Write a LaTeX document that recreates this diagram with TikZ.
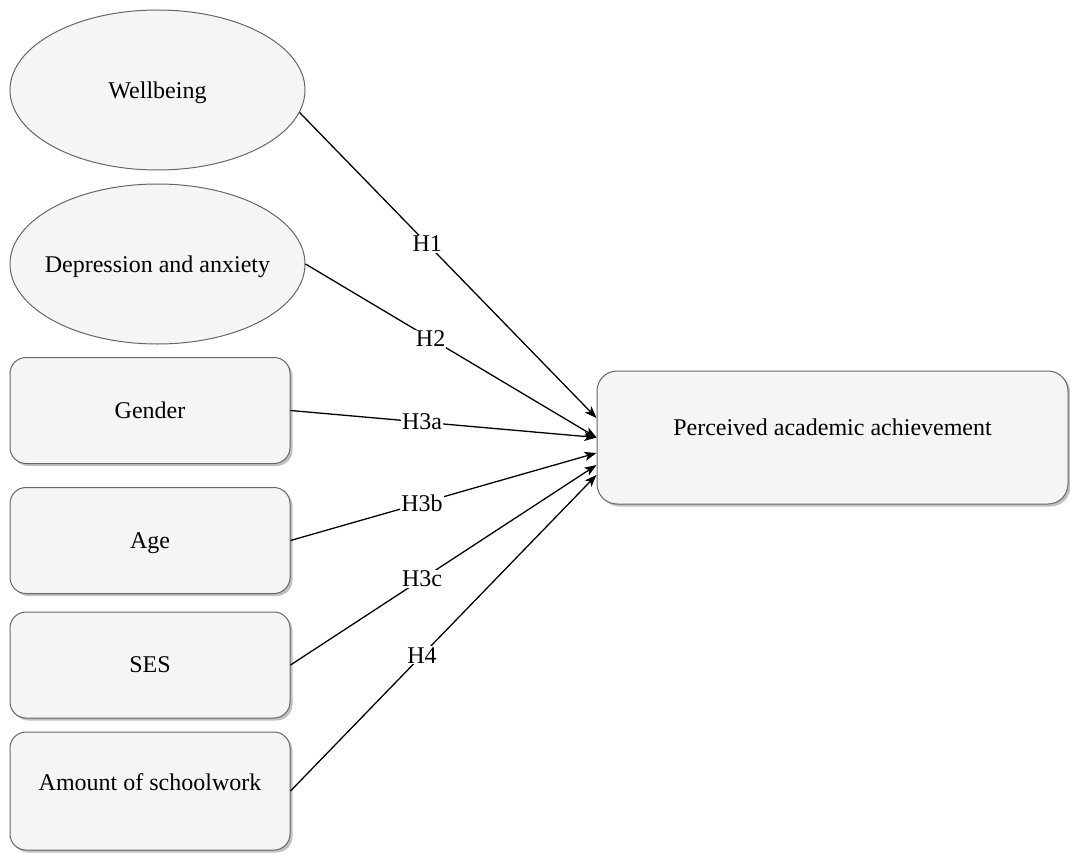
\documentclass[tikz,border=0pt]{standalone}
\usepackage{fontspec}
\setmainfont{Liberation Serif}
\usetikzlibrary{arrows.meta,shapes.geometric,shadows,calc}
\definecolor{nodefill}{HTML}{F5F5F5}
\definecolor{nodeline}{HTML}{666666}
\begin{document}
\begin{tikzpicture}[x=1pt,y=-1pt,
  every node/.style={font=\fontsize{24}{28}\selectfont},
  oval/.style={ellipse, draw=nodeline, fill=nodefill, line width=1pt,
    minimum width=295pt, minimum height=160pt, inner sep=0pt, inner xsep=-50pt,
    text depth=0pt},
  card/.style={rectangle, rounded corners=16pt, draw=nodeline, fill=nodefill,
    line width=1pt, minimum width=280pt, minimum height=106pt, inner sep=0pt,
    text depth=0pt,
    drop shadow={shadow xshift=2.5pt, shadow yshift=-2.5pt, fill=black!45, opacity=0.55}},
  edge/.style={draw=black, line width=1.3pt, -{Stealth[length=12pt,width=9pt,inset=3pt]}},
  hlab/.style={fill=white, inner sep=1pt, pos=0.43}
]
\useasboundingbox (0,0) rectangle (1070,853);

% predictors
\node[oval] (wb)  at (157.5,90)  {Wellbeing};
\node[oval] (dep) at (157.5,264) {Depression and anxiety};
\node[card] (gen) at (150,410.5) {Gender};
\node[card] (age) at (150,540.5) {Age};
\node[card] (ses) at (150,665)   {SES};
\node[card, minimum height=118pt,
  label={[yshift=9pt]center:Amount of schoolwork}] (work) at (150,791) {};

% outcome
\node[card, minimum width=471pt, minimum height=133pt, rounded corners=20pt,
  label={[yshift=10pt]center:Perceived academic achievement}] (pa) at (832.5,437.5) {};

% arrow endpoints on the outcome's left side
\coordinate (in1) at ($(pa.west)+(0,-19.5)$);
\coordinate (in2) at (pa.west);
\coordinate (in3) at ($(pa.west)+(0,15.5)$);
\coordinate (in4) at ($(pa.west)+(0,27.5)$);
\coordinate (in5) at ($(pa.west)+(0,37.5)$);

% hypothesised paths
\draw[edge] (wb.-9)     -- node[hlab]{H1}  (in1);
\draw[edge] (dep.east)  -- node[hlab]{H2}  (in2);
\draw[edge] (gen.east)  -- node[hlab]{H3a} (in2);
\draw[edge] (age.east)  -- node[hlab]{H3b} (in3);
\draw[edge] (ses.east)  -- node[hlab]{H3c} (in4);
\draw[edge] (work.east) -- node[hlab]{H4}  (in5);
\end{tikzpicture}
\end{document}
